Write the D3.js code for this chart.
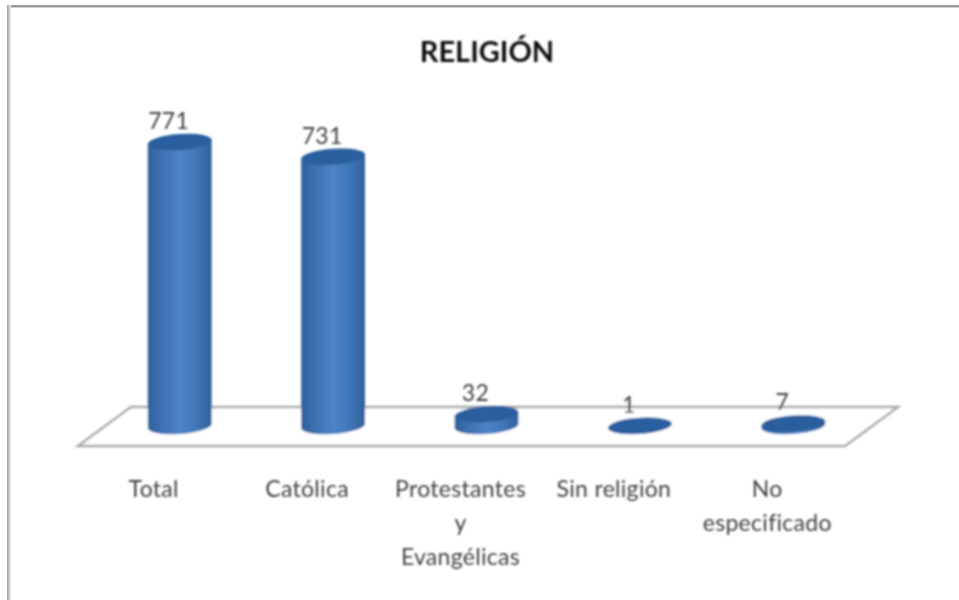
<!DOCTYPE html>
<html><head><meta charset="utf-8">
<style>html,body{margin:0;padding:0;background:#fff;overflow:hidden}</style>
<script src="https://cdn.jsdelivr.net/npm/d3@7"></script>
</head><body><svg id="c" width="959" height="600"></svg>
<script>
const categories = ["Total","Católica","Protestantes y Evangélicas","Sin religión","No especificado"];
const tickLines = [["Total"],["Católica"],["Protestantes","y","Evangélicas"],["Sin religión"],["No","especificado"]];
const values = [771,731,32,1,7];
const title = "RELIGIÓN";

const svg = d3.select("#c");
const defs = svg.append("defs");
const soft = defs.append("filter").attr("id","soft").attr("filterUnits","userSpaceOnUse")
  .attr("x",0).attr("y",0).attr("width",959).attr("height",600);
soft.append("feGaussianBlur").attr("stdDeviation",1);
const grad = defs.append("linearGradient").attr("id","cyl");
[[0,"#2f609c"],[0.25,"#3f74b5"],[0.5,"#4d84c6"],[0.75,"#4177b8"],[1,"#2f5f9b"]]
  .forEach(([o,c])=>grad.append("stop").attr("offset",o).attr("stop-color",c));
const bgrad = defs.append("linearGradient").attr("id","bord");
bgrad.append("stop").attr("offset",0).attr("stop-color","#9a9a9a");
bgrad.append("stop").attr("offset",1).attr("stop-color","#f4f4f4");

const x = d3.scaleBand().domain(categories).range([103,870]).padding(0);
const y = d3.scaleLinear().domain([0,771]).range([426,142]);
const cx = c => x(c)+x.bandwidth()/2;
const floorFront = 446, floorBack = 407, skew = 53;

// Picture frame (top and left edges only)
svg.append("rect").attr("x",7).attr("y",5).attr("width",952).attr("height",2.5).attr("fill","#9c9c9c");
svg.append("rect").attr("x",7).attr("y",5).attr("width",4).attr("height",595).attr("fill","url(#bord)");

const g = svg.append("g").attr("filter","url(#soft)");

// Floor
const fl = x.range()[0]-25, fr = x.range()[1]-25;
g.append("path")
  .attr("d",`M${fl},${floorFront}L${fl+skew},${floorBack}L${fr+skew},${floorBack}L${fr},${floorFront}Z`)
  .attr("fill","#fff").attr("stroke","#a8a8a8").attr("stroke-width",2.4);

// Cylinders
const a = 32, b = 8, tilt = 4, rad = tilt*Math.PI/180;
const dx = a*Math.cos(rad), dy = a*Math.sin(rad);
const bars = g.selectAll("g.bar").data(values).join("g").attr("class","bar");
bars.append("path").attr("fill","url(#cyl)").attr("d",(d,i)=>{
  const c = cx(categories[i]), t = y(d), z = y(0);
  return `M${c-dx},${t+dy}L${c+dx},${t-dy}L${c+dx},${z-dy}A${a},${b} ${-tilt} 0 1 ${c-dx},${z+dy}Z`;
});
bars.append("ellipse")
  .attr("rx",a).attr("ry",b).attr("fill","#2a5f9f")
  .attr("transform",(d,i)=>`translate(${cx(categories[i])},${y(d)}) rotate(${-tilt})`);

// Value labels
const font = "Lato, 'Open Sans', sans-serif";
g.selectAll("text.val").data(values).join("text").attr("class","val")
  .attr("x",(d,i)=>cx(categories[i])-11)
  .attr("y",d=>y(d)-13)
  .attr("text-anchor","middle").attr("font-family",font).attr("font-size",23)
  .attr("letter-spacing",0.3).attr("fill","#404040").text(d=>d);

// Category labels
const labels = g.selectAll("text.cat").data(categories).join("text").attr("class","cat")
  .attr("text-anchor","middle").attr("font-family",font).attr("font-size",23)
  .attr("letter-spacing",0.3).attr("fill","#404040");
labels.each(function(c,i){
  d3.select(this).selectAll("tspan").data(tickLines[i]).join("tspan")
    .attr("x",cx(c)-26).attr("y",(l,j)=>497+j*34).text(l=>l);
});

// Title
g.append("text").attr("x",487).attr("y",62).attr("text-anchor","middle")
  .attr("font-family",font).attr("font-weight",700).attr("font-size",29)
  .attr("fill","#111").text(title);
</script></body></html>
